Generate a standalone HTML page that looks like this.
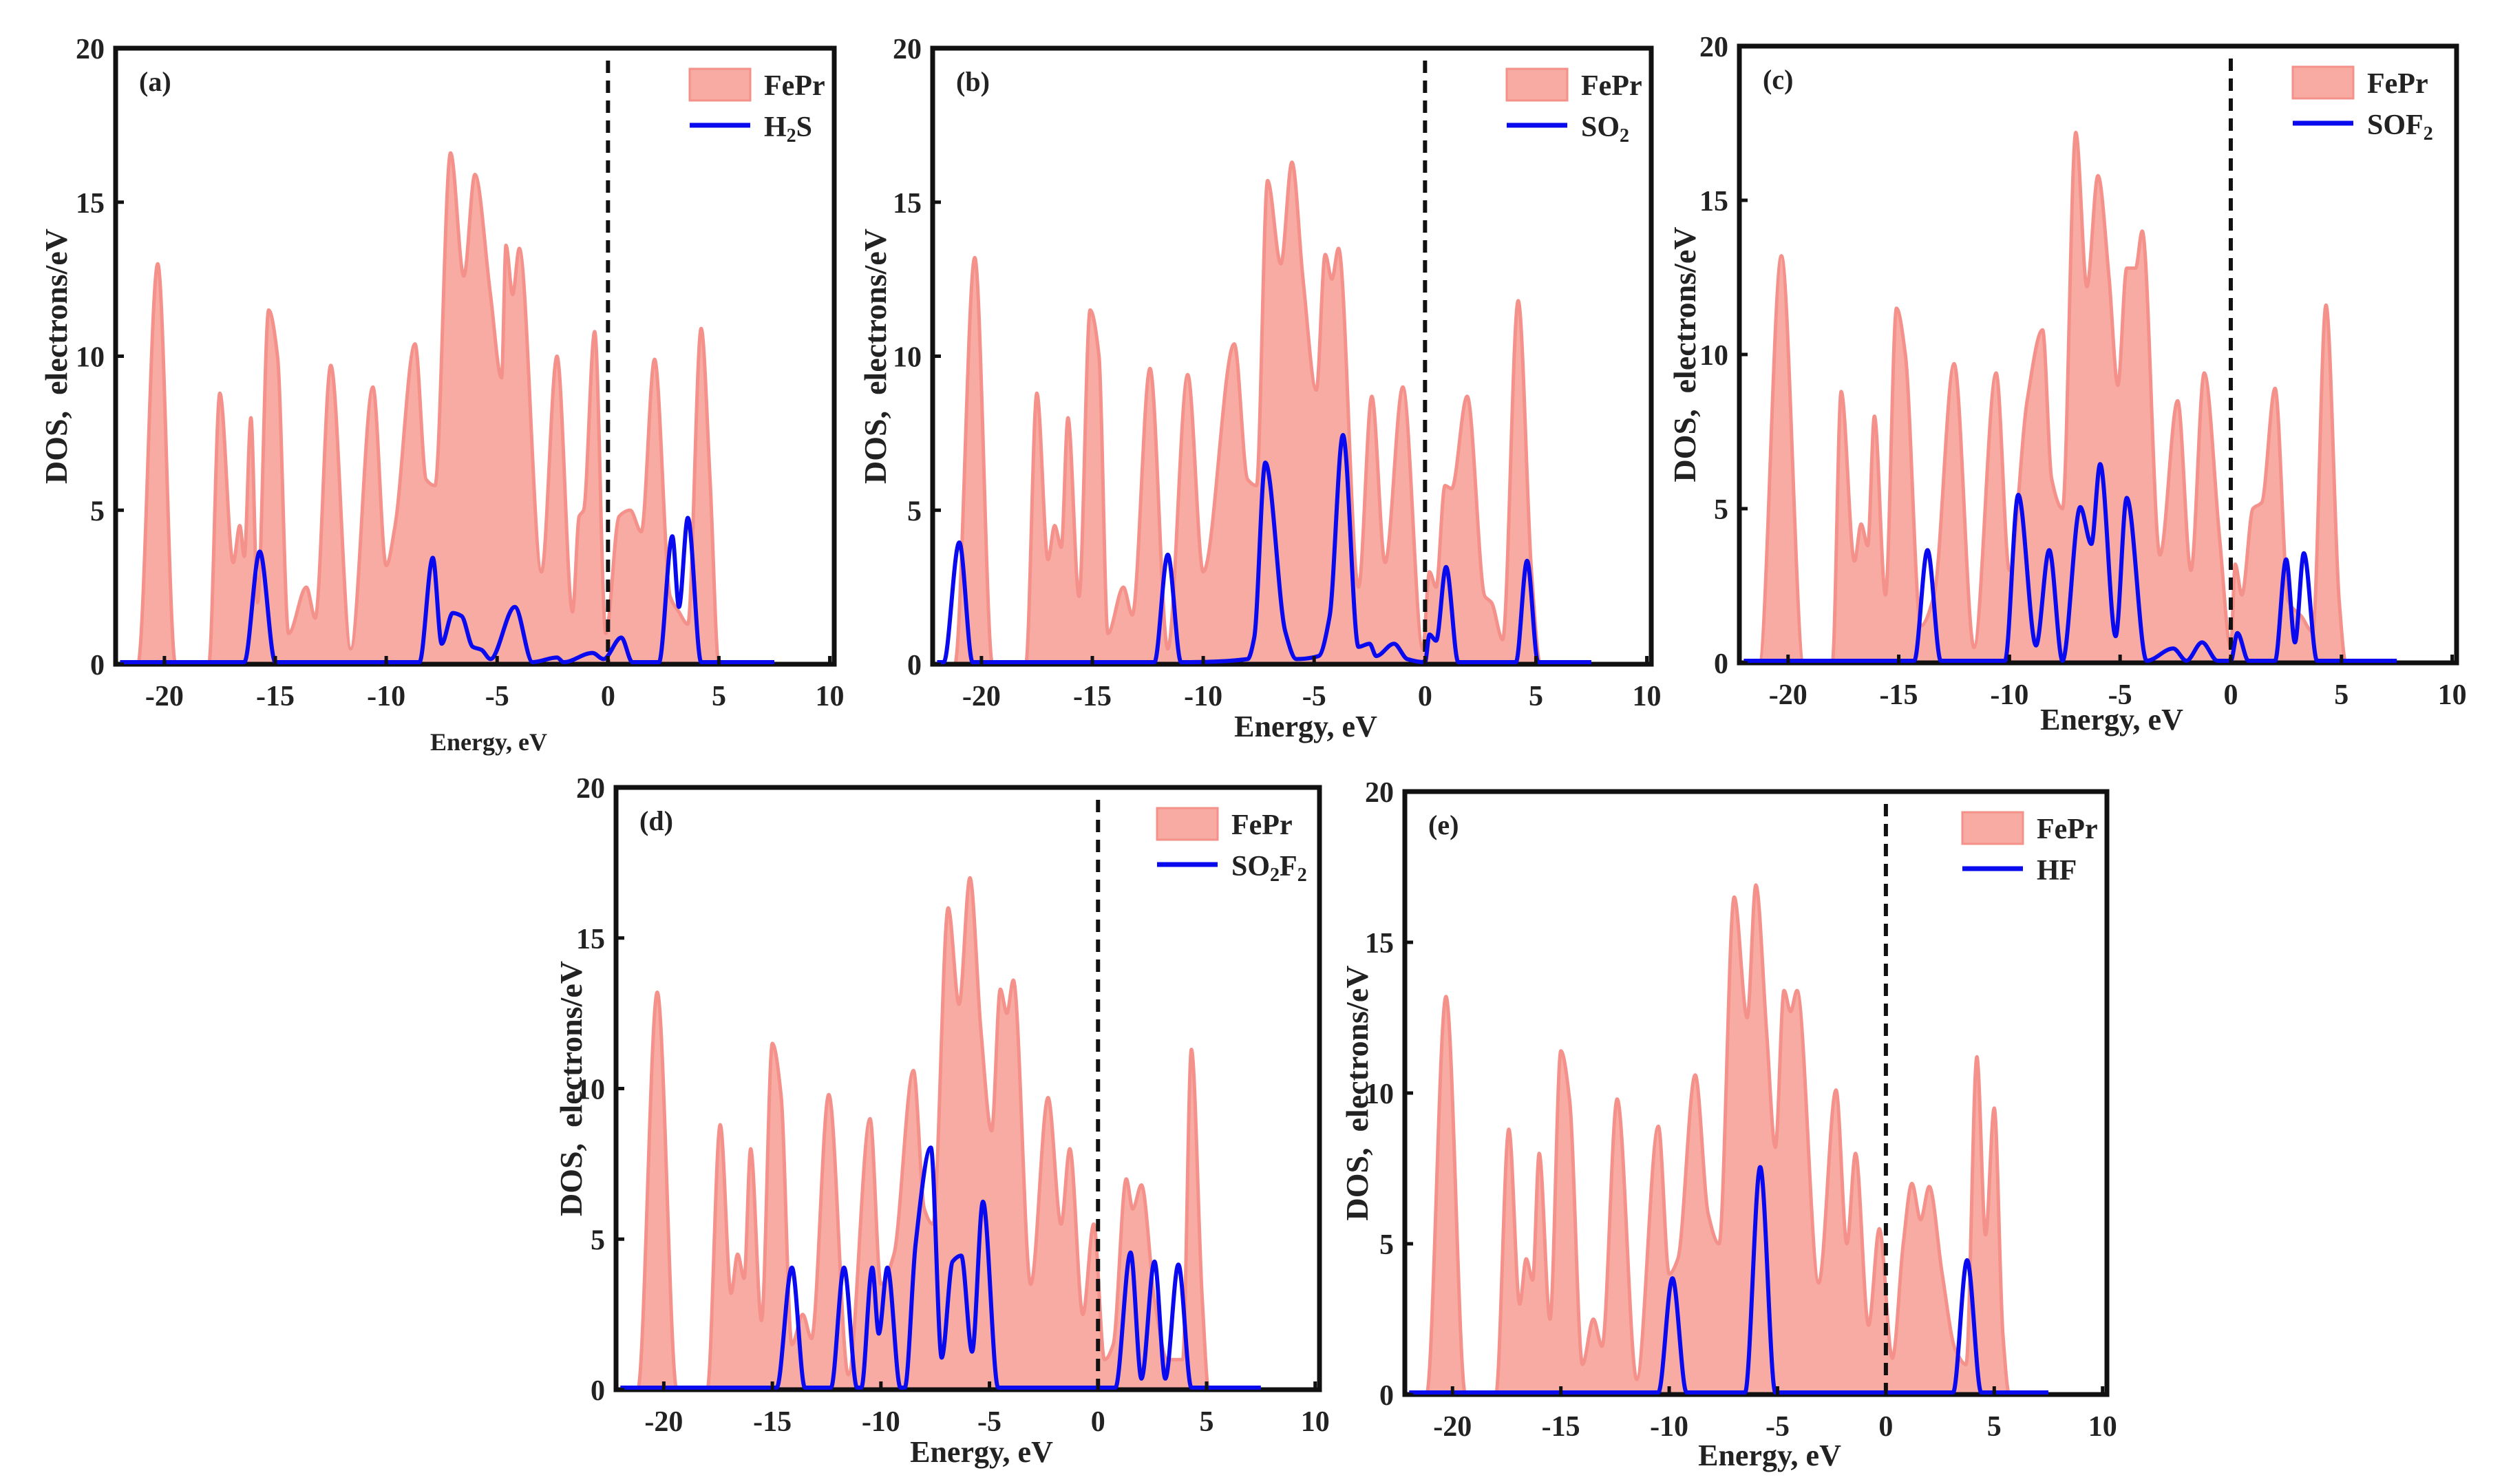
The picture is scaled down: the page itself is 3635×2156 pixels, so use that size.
<!DOCTYPE html>
<html><head><meta charset="utf-8"><style>
html,body{margin:0;padding:0;background:#fff;}
svg{display:block;}
text{font-family:"Liberation Serif",serif;font-weight:bold;fill:#222;}
.pre{white-space:pre;}
</style></head><body>
<svg id="chart" width="3635" height="2156" viewBox="0 0 3635 2156" xmlns="http://www.w3.org/2000/svg"></svg>
<script>
// ---- data: (energy, DOS) points ----
const aFeX=[-21.2,-20.3,-19.5,-18,-17.5,-16.9,-16.6,-16.4,-16.1,-15.8,-15.3,-14.9,-14.4,-13.6,-13.2,-12.5,-11.6,-10.6,-10.0,-9.6,-8.7,-8.2,-7.8,-7.1,-6.5,-6.0,-5.3,-4.8,-4.6,-4.3,-4.0,-3.0,-2.3,-1.6,-1.3,-1.1,-0.6,-0.1,0.5,1.0,1.5,2.1,2.8,3.2,3.6,4.2,4.6,5.0];
const aFeY=[0,13,0,0,8.8,3.3,4.5,3.5,8,2,11.5,10,1,2.5,1.5,9.7,0.5,9,3.2,4.5,10.4,6,5.8,16.6,12.6,15.9,12,9.3,13.6,12,13.5,3,10,1.7,4.8,5,10.8,1,4.8,5,4.3,9.9,2.2,1.7,1.3,10.9,6,0];
const aMolX=[-16.4,-15.7,-15.0,-8.5,-7.9,-7.5,-7.0,-6.6,-6.1,-5.7,-5.3,-4.2,-3.4,-2.3,-2.0,-0.7,-0.2,0.6,1.1,2.3,2.9,3.2,3.6,4.2];
const aMolY=[0,3.6,0,0,3.4,0.6,1.6,1.5,0.5,0.4,0.1,1.8,0,0.15,0,0.3,0.1,0.8,0,0,4.1,1.8,4.7,0];

const bFeX=[-21.2,-20.3,-19.5,-18,-17.5,-17,-16.7,-16.4,-16.1,-15.6,-15.1,-14.7,-14.3,-13.6,-13.2,-12.4,-11.6,-10.7,-10.0,-8.6,-8.0,-7.6,-7.1,-6.5,-6.0,-5.5,-4.9,-4.5,-4.2,-3.9,-3.0,-2.4,-1.8,-1.0,-0.1,0.2,0.5,0.9,1.2,1.9,2.7,3.0,3.5,4.2,4.8,5.2];
const bFeY=[0,13.2,0,0,8.8,3.4,4.5,3.8,8,2.2,11.5,10,1,2.5,1.6,9.6,0.5,9.4,3,10.4,6,5.8,15.7,13,16.3,12.5,8.9,13.3,12.5,13.5,2.5,8.7,3.3,9,0.5,3,2.5,5.8,5.7,8.7,2.2,2,0.8,11.8,3,0];
const bMolX=[-21.7,-21.0,-20.4,-12.2,-11.6,-11.0,-8.0,-7.7,-7.2,-6.3,-5.8,-4.8,-4.3,-3.7,-3.0,-2.5,-2.2,-1.4,-0.8,0,0.2,0.5,0.95,1.5,4.1,4.6,5.1];
const bMolY=[0,3.9,0,0,3.5,0,0.1,0.8,6.5,1.0,0.1,0.2,1.5,7.4,0.5,0.6,0.2,0.6,0.1,0,0.9,0.7,3.1,0,0,3.3,0];

const cFeX=[-21.3,-20.3,-19.3,-18,-17.6,-17,-16.7,-16.4,-16.1,-15.6,-15.1,-14.7,-14.0,-13.4,-12.5,-11.6,-10.6,-10.0,-9.2,-8.5,-8.1,-7.6,-7.0,-6.5,-6.0,-5.5,-5.1,-4.7,-4.3,-4.0,-3.2,-2.4,-1.8,-1.2,-0.5,0,0.2,0.5,1.0,1.4,2.0,2.6,3.2,3.7,4.3,4.9,5.2];
const cFeY=[0,13.2,0,0,8.8,3.3,4.5,3.8,8,2.2,11.5,10,1.2,2.2,9.7,0.5,9.4,3,8.5,10.8,6,5,17.2,12.2,15.8,12.5,9,12.8,12.8,14,3.5,8.5,3,9.4,4,0.5,3.2,2.2,5,5.2,8.9,2,1.5,1,11.6,2,0];
const cMolX=[-14.3,-13.7,-13.1,-10.2,-9.6,-8.8,-8.2,-7.6,-6.8,-6.3,-5.9,-5.2,-4.7,-3.8,-2.6,-2.0,-1.3,-0.6,0,0.3,0.8,2.0,2.5,2.9,3.3,3.9];
const cMolY=[0,3.6,0,0,5.4,0.5,3.6,0,5.0,3.8,6.4,0.8,5.3,0,0.4,0,0.6,0,0,0.9,0,0,3.3,0.6,3.5,0];

const dFeX=[-21.2,-20.3,-19.4,-18,-17.4,-16.9,-16.6,-16.3,-16.0,-15.5,-15.0,-14.6,-14.1,-13.6,-13.2,-12.4,-11.5,-10.5,-10.0,-9.4,-8.5,-8.0,-7.6,-6.9,-6.4,-5.9,-5.4,-4.9,-4.5,-4.2,-3.9,-3.1,-2.3,-1.7,-1.3,-0.7,-0.2,0.3,0.7,1.3,1.6,2.0,2.6,3.2,3.9,4.3,4.8,5.1];
const dFeY=[0,13.2,0,0,8.8,3.2,4.5,3.7,8,2.3,11.5,9.8,1.5,2.5,1.7,9.8,0.5,9,3.5,4.5,10.6,6,5.5,16,12.8,17,12,8.6,13.3,12.5,13.6,3.5,9.7,5.5,8,2.5,5.5,1,1.5,7,6,6.8,3,1,1,11.3,3,0];
const dMolX=[-14.8,-14.1,-13.5,-12.3,-11.7,-11.1,-10.9,-10.4,-10.1,-9.7,-9.1,-8.9,-8.4,-7.7,-7.2,-6.7,-6.3,-5.8,-5.3,-4.6,0.8,1.5,2.0,2.6,3.1,3.7,4.3];
const dMolY=[0,4,0,0,4,0,0,4,1.8,4,0,0,4.8,8,1,4.2,4.4,1.2,6.2,0,0,4.5,0.3,4.2,0.3,4.1,0];

const eFeX=[-21.2,-20.3,-19.4,-18,-17.4,-16.9,-16.6,-16.3,-16.0,-15.5,-15.0,-14.6,-14.0,-13.5,-13.1,-12.4,-11.5,-10.5,-10.0,-9.6,-8.8,-8.2,-7.7,-7.0,-6.4,-6.0,-5.5,-5.1,-4.7,-4.4,-4.1,-3.1,-2.3,-1.8,-1.4,-0.8,-0.3,0.3,0.8,1.2,1.6,2.0,2.6,3.2,3.7,4.2,4.6,5.0,5.4,5.7];
const eFeY=[0,13.2,0,0,8.8,3,4.5,3.8,8,2.5,11.4,9.8,1,2.5,1.6,9.8,0.5,8.9,4,4.5,10.6,6,5,16.5,12.5,16.9,12,8.2,13.4,12.7,13.4,3.7,10.1,5,8,2.3,5.5,1.2,5,7,5.8,6.9,4,1.5,1,11.2,5.3,9.5,2,0];
const eMolX=[-10.5,-9.85,-9.2,-6.5,-5.8,-5.1,3.1,3.75,4.4];
const eMolY=[0,3.8,0,0,7.5,0,0,4.4,0];

const xTicks=[-20,-15,-10,-5,0,5,10];
const yTicks=[0,5,10,15,20];

const panels=[
 {id:'a',L:168,R:1212,T:70,B:965,mol:'H2S',fx:aFeX,fy:aFeY,mx:aMolX,my:aMolY,ylabX:82,xlabY:1090,xlabSize:36,lo:0},
 {id:'b',L:1355,R:2399,T:70,B:965,mol:'SO2',fx:bFeX,fy:bFeY,mx:bMolX,my:bMolY,ylabX:1272,xlabY:1070,xlabSize:44,lo:0},
 {id:'c',L:2527,R:3569,T:67,B:963,mol:'SOF2',fx:cFeX,fy:cFeY,mx:cMolX,my:cMolY,ylabX:2448,xlabY:1060,xlabSize:44,lo:28},
 {id:'d',L:895,R:1917,T:1144,B:2019,mol:'SO2F2',fx:dFeX,fy:dFeY,mx:dMolX,my:dMolY,ylabX:830,xlabY:2124,xlabSize:44,lo:26},
 {id:'e',L:2041,R:3061,T:1150,B:2026,mol:'HF',fx:eFeX,fy:eFeY,mx:eMolX,my:eMolY,ylabX:1972,xlabY:2129,xlabSize:44,lo:0}
];
const XMIN=-22.2, XMAX=10.2, YMAX=20;
const NS='http://www.w3.org/2000/svg';
const svg=document.getElementById('chart');
function mk(tag,attrs,parent){const e=document.createElementNS(NS,tag);for(const k in attrs)e.setAttribute(k,attrs[k]);(parent||svg).appendChild(e);return e;}

// monotone cubic (Fritsch-Carlson) path through points
function curvePath(xs,ys,sx,sy,x0,x1){
  const X=[x0].concat(xs,[x1]), Y=[0].concat(ys,[0]);
  const n=X.length, dk=[], m=new Array(n).fill(0);
  for(let i=0;i<n-1;i++) dk.push((Y[i+1]-Y[i])/(X[i+1]-X[i]));
  m[0]=dk[0]; m[n-1]=dk[n-2];
  for(let i=1;i<n-1;i++){
    if(dk[i-1]*dk[i]<=0) m[i]=0;
    else { const w1=2*(X[i+1]-X[i])+(X[i]-X[i-1]), w2=(X[i+1]-X[i])+2*(X[i]-X[i-1]);
      m[i]=(w1+w2)/(w1/dk[i-1]+w2/dk[i]); }
  }
  let d='M'+sx(X[0]).toFixed(1)+','+sy(Y[0]).toFixed(1);
  for(let i=0;i<n-1;i++){
    const h=X[i+1]-X[i];
    const c1x=X[i]+h/3, c1y=Y[i]+m[i]*h/3, c2x=X[i+1]-h/3, c2y=Y[i+1]-m[i+1]*h/3;
    d+=' C'+sx(c1x).toFixed(1)+','+sy(c1y).toFixed(1)+' '+sx(c2x).toFixed(1)+','+sy(c2y).toFixed(1)+' '+sx(X[i+1]).toFixed(1)+','+sy(Y[i+1]).toFixed(1);
  }
  return d;
}

panels.forEach(p=>{
  const g=mk('g',{});
  
  
  const sx=v=>p.L+(v-XMIN)/(XMAX-XMIN)*(p.R-p.L);
  const sy=v=>p.B-v/YMAX*(p.B-p.T);
  const syMol=v=>p.B-3-v/YMAX*(p.B-3-p.T);
  const clipId='clip'+p.id;
  const cp=mk('clipPath',{id:clipId},g);
  mk('rect',{x:p.L,y:p.T,width:p.R-p.L,height:p.B-p.T},cp);
  const d=curvePath(p.fx,p.fy,sx,sy,XMIN,XMAX);
  const fill=mk('path',{d:d+' Z',fill:'#f8aba3',stroke:'#f3918a','stroke-width':5,'clip-path':'url(#'+clipId+')'},g);
  
  
  const fl=mk('line',{x1:sx(0),x2:sx(0),y1:p.T+18,y2:p.B,stroke:'#111','stroke-width':6,'stroke-dasharray':'18,11'},g);
  
  
  const fr=mk('rect',{x:p.L,y:p.T,width:p.R-p.L,height:p.B-p.T,fill:'none',stroke:'#111','stroke-width':7},g);
  
  
  const ml=mk('path',{d:curvePath(p.mx,p.my,sx,syMol,-22.0,7.5),fill:'none',stroke:'#0a0aee','stroke-width':6,'stroke-linejoin':'round'},g);
  
  
  xTicks.forEach(t=>{
    const x=sx(t);
    const tk=mk('line',{x1:x,x2:x,y1:p.B,y2:p.B-12,stroke:'#111','stroke-width':5},g);
    
    
    const tl=mk('text',{x:x,y:p.B+60,'font-size':42,'text-anchor':'middle'},g);
    tl.textContent=String(t);
    
    
  });
  yTicks.forEach(t=>{
    const y=sy(t);
    const tk=mk('line',{x1:p.L,x2:p.L+12,y1:y,y2:y,stroke:'#111','stroke-width':5},g);
    
    
    const tl=mk('text',{x:p.L-16,y:y+15,'font-size':42,'text-anchor':'end'},g);
    tl.textContent=String(t);
    
    
  });
  const yl=mk('text',{x:0,y:0,'font-size':46,'text-anchor':'middle','class':'pre',transform:'translate('+(p.ylabX+15)+','+((p.T+p.B)/2)+') rotate(-90)'},g);
  yl.textContent='DOS,  electrons/eV';
  
  
  const xl=mk('text',{x:(p.L+p.R)/2+20,y:p.xlabY,'font-size':p.xlabSize,'text-anchor':'middle'},g);
  xl.textContent='Energy, eV';
  
  
  const pl=mk('text',{x:p.L+34,y:p.T+62,'font-size':40},g);
  pl.textContent='('+p.id+')';
  
  
  const lg=mk('g',{},g);
  
  
  const sw=mk('rect',{x:p.R-210-p.lo,y:p.T+30,width:88,height:46,fill:'#f8aba3',stroke:'#f3918a','stroke-width':3},lg);
  
  
  const t1=mk('text',{x:p.R-102-p.lo,y:p.T+68,'font-size':42},lg);
  t1.textContent='FePr';
  
  
  const ll=mk('line',{x1:p.R-210-p.lo,x2:p.R-122-p.lo,y1:p.T+112,y2:p.T+112,stroke:'#0a0aee','stroke-width':7},lg);
  
  
  const t2=mk('text',{x:p.R-102-p.lo,y:p.T+128,'font-size':42},lg);
  
  
  const parts=p.mol.match(/[A-Za-z]+|\d+/g);
  parts.forEach((s,i)=>{
    const ts=mk('tspan',{},t2);
    if(/\d/.test(s)){ts.setAttribute('font-size','28');ts.setAttribute('dy','8');}
    else if(i>0){ts.setAttribute('dy','-8');}
    ts.textContent=s;
  });
});
</script>
</body></html>
